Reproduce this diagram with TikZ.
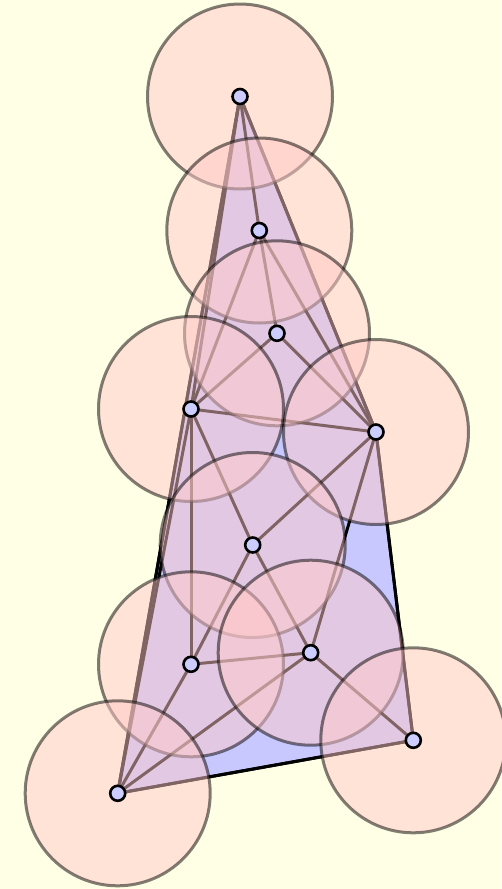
\documentclass[tikz,border=0pt]{standalone}
\definecolor{bg}{RGB}{255,255,230}
\definecolor{hull}{RGB}{200,200,255}
\definecolor{diskc}{RGB}{255,200,200}
\definecolor{vertc}{RGB}{204,204,255}
\begin{document}
\begin{tikzpicture}[x=1pt,y=-1pt,
  hullstyle/.style={fill=hull,draw=black,line width=3pt,line join=round},
  edgestyle/.style={draw=black,line width=3pt},
  diskstyle/.style={fill=diskc,fill opacity=0.5,draw=black,draw opacity=0.5,line width=3pt},
  vertex/.style={circle,fill=vertc,draw=black,line width=2.6pt,minimum size=15pt,inner sep=0pt}]
\fill[bg] (0,0) rectangle (501,889);
\useasboundingbox (0,0) rectangle (501,889);
\coordinate (A) at (240,96.5);
\coordinate (B) at (259.3,230.5);
\coordinate (C) at (277,333.3);
\coordinate (D) at (191,409);
\coordinate (E) at (376,432);
\coordinate (F) at (252.7,545);
\coordinate (G) at (191,664.3);
\coordinate (H) at (310.7,652.7);
\coordinate (I) at (413.3,740.3);
\coordinate (J) at (117.7,793.3);
\draw[hullstyle] (A) -- (E) -- (I) -- (J) -- cycle;
\foreach \u/\v in {A/B,A/D,A/E,A/J,B/C,B/D,B/E,C/D,C/E,D/E,D/F,D/G,D/J,E/F,E/H,E/I,F/G,F/H,G/H,G/J,H/J,H/I,I/J}
  \draw[edgestyle] (\u) -- (\v);
\foreach \p in {A,B,C,D,E,F,G,H,I,J}
  \draw[diskstyle] (\p) circle[radius=92.5];
\foreach \p in {A,B,C,D,E,F,G,H,I,J}
  \node[vertex] (n\p) at (\p) {};
\end{tikzpicture}
\end{document}
